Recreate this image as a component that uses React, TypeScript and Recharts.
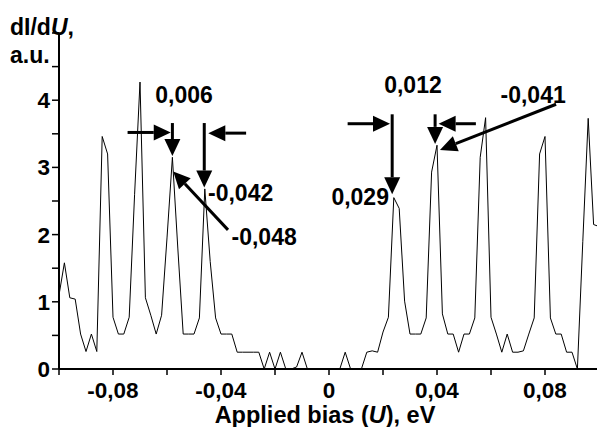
import React from 'react';
import { LineChart, Line, XAxis, YAxis, ReferenceLine, ReferenceDot } from 'recharts';

// Applied bias U (eV)
const bias = [
  -0.1, -0.098, -0.096, -0.094, -0.092, -0.09, -0.088, -0.086, -0.084, -0.082,
  -0.08, -0.078, -0.076, -0.074, -0.072, -0.07, -0.068, -0.066, -0.064, -0.062,
  -0.06, -0.058, -0.056, -0.054, -0.052, -0.05, -0.048, -0.046, -0.044, -0.042,
  -0.04, -0.038, -0.036, -0.034, -0.032, -0.03, -0.028, -0.026, -0.024, -0.022,
  -0.02, -0.018, -0.016, -0.014, -0.012, -0.01, -0.008, -0.006, -0.004, -0.002,
  0, 0.002, 0.004, 0.006, 0.008, 0.01, 0.012, 0.014, 0.016, 0.018,
  0.02, 0.022, 0.024, 0.026, 0.028, 0.03, 0.032, 0.034, 0.036, 0.038,
  0.04, 0.042, 0.044, 0.046, 0.048, 0.05, 0.052, 0.054, 0.056, 0.058,
  0.06, 0.062, 0.064, 0.066, 0.068, 0.07, 0.072, 0.074, 0.076, 0.078,
  0.08, 0.082, 0.084, 0.086, 0.088, 0.09, 0.092, 0.094, 0.096, 0.098,
  0.1,
];

// dI/dU (a.u.)
const dIdU = [
  1.1, 1.58, 1.06, 1.04, 0.52, 0.26, 0.52, 0.26, 3.46, 3.2,
  0.77, 0.52, 0.52, 0.77, 2.6, 4.27, 1.06, 0.8, 0.52, 0.8,
  1.95, 3.15, 1.8, 0.52, 0.52, 0.52, 0.76, 2.68, 1.6, 0.76,
  0.52, 0.52, 0.52, 0.25, 0.25, 0.25, 0.25, 0.25, 0, 0.25,
  0, 0.25, 0, 0, 0.03, 0.25, 0, 0, 0, 0,
  0, 0, 0, 0.25, 0, 0, 0, 0.25, 0.27, 0.25,
  0.55, 0.77, 2.55, 2.39, 1.01, 0.52, 0.52, 0.52, 0.76, 2.93,
  3.33, 0.82, 0.52, 0.52, 0.25, 0.52, 0.52, 0.76, 3.15, 3.74,
  0.77, 0.52, 0.25, 0.52, 0.25, 0.25, 0.27, 0.52, 0.76, 3.2,
  3.46, 0.76, 0.52, 0.52, 0.25, 0.25, 0, 1.9, 3.73, 2.15,
  2.12,
];

const xTicks = [-0.1, -0.08, -0.06, -0.04, -0.02, 0, 0.02, 0.04, 0.06, 0.08, 0.1];
const xTickLabels: Record<string, string> = {
  '-0.08': '-0,08',
  '-0.04': '-0,04',
  '0': '0',
  '0.04': '0,04',
  '0.08': '0,08',
};
const yTicks = [0, 0.5, 1, 1.5, 2, 2.5, 3, 3.5, 4, 4.5, 5];
const yTickLabels: Record<string, string> = { '0': '0', '1': '1', '2': '2', '3': '3', '4': '4' };

// Arrow annotations in data units (tail -> tip)
const arrows = [
  { x1: -0.0746, y1: 3.52, x2: -0.0586, y2: 3.52 },
  { x1: -0.058, y1: 3.66, x2: -0.058, y2: 3.17 },
  { x1: -0.0462, y1: 3.66, x2: -0.0462, y2: 2.7 },
  { x1: -0.0307, y1: 3.51, x2: -0.0447, y2: 3.51 },
  { x1: -0.0374, y1: 2.07, x2: -0.0577, y2: 2.94 },
  { x1: 0.0069, y1: 3.65, x2: 0.0226, y2: 3.65 },
  { x1: 0.0234, y1: 3.79, x2: 0.0234, y2: 2.6 },
  { x1: 0.0393, y1: 3.79, x2: 0.0393, y2: 3.35 },
  { x1: 0.0544, y1: 3.65, x2: 0.0406, y2: 3.65 },
  { x1: 0.0841, y1: 3.94, x2: 0.0411, y2: 3.26 },
];

// Text annotations in data units
const notes = [
  { x: -0.0537, y: 4.08, text: '0,006', anchor: 'middle' },
  { x: -0.0448, y: 2.62, text: '-0,042', anchor: 'start' },
  { x: -0.0361, y: 1.97, text: '-0,048', anchor: 'start' },
  { x: 0.0311, y: 4.23, text: '0,012', anchor: 'middle' },
  { x: 0.0222, y: 2.56, text: '0,029', anchor: 'end' },
  { x: 0.0756, y: 4.08, text: '-0,041', anchor: 'middle' },
];

const data = bias.map((b, i) => ({ bias: b, v: dIdU[i] }));

const FONT = '"Liberation Sans", Arial, Helvetica, sans-serif';
const FS = 23;
const TICK_FS = 22.5;

const ArrowShape = (p: any) => {
  const x1 = Number(p.x1), y1 = Number(p.y1), x2 = Number(p.x2), y2 = Number(p.y2);
  const dx = x2 - x1, dy = y2 - y1;
  const len = Math.hypot(dx, dy) || 1;
  const ux = dx / len, uy = dy / len;
  const L = 17, W = 8;
  const bx = x2 - ux * L, by = y2 - uy * L;
  const pts = `${x2},${y2} ${bx - uy * W},${by + ux * W} ${bx + uy * W},${by - ux * W}`;
  return (
    <g>
      <line x1={x1} y1={y1} x2={bx} y2={by} stroke="#000" strokeWidth={3} />
      <polygon points={pts} fill="#000" />
    </g>
  );
};

const fmtX = (v: number) => {
  const k = String(Math.round(v * 100) / 100);
  return xTickLabels[k] ?? '';
};
const fmtY = (v: number) => yTickLabels[String(v)] ?? '';

export default function App() {
  return (
    <div style={{ position: 'absolute', left: 0, top: 0, width: 597, height: 427, overflow: 'hidden', background: '#fff' }}>
      <LineChart width={600} height={427} data={data} margin={{ top: 33, right: 1, left: 0, bottom: 0 }}>
        <XAxis
          dataKey="bias"
          type="number"
          domain={[-0.1, 0.1]}
          ticks={xTicks}
          tickFormatter={fmtX}
          interval={0}
          height={58}
          tickSize={6}
          tickMargin={7}
          allowDataOverflow
          axisLine={{ stroke: '#000', strokeWidth: 2 }}
          tickLine={{ stroke: '#000', strokeWidth: 1.5 }}
          tick={{ fill: '#000', fontSize: TICK_FS, fontWeight: 'bold', fontFamily: FONT }}
        />
        <YAxis
          type="number"
          domain={[0, 5]}
          ticks={yTicks}
          tickFormatter={fmtY}
          interval={0}
          width={59}
          tickSize={7}
          tickMargin={2}
          allowDataOverflow
          axisLine={{ stroke: '#000', strokeWidth: 2 }}
          tickLine={{ stroke: '#000', strokeWidth: 1.5 }}
          tick={{ fill: '#000', fontSize: TICK_FS, fontWeight: 'bold', fontFamily: FONT }}
        />
        <Line
          dataKey="v"
          type="linear"
          stroke="#000"
          strokeWidth={1}
          dot={false}
          activeDot={false}
          isAnimationActive={false}
        />
        {arrows.map((a, i) => (
          <ReferenceLine
            key={'a' + i}
            segment={[{ x: a.x1, y: a.y1 }, { x: a.x2, y: a.y2 }]}
            shape={ArrowShape}
            ifOverflow="visible"
          />
        ))}
        {notes.map((n, i) => (
          <ReferenceDot
            key={'n' + i}
            x={n.x}
            y={n.y}
            r={0}
            ifOverflow="visible"
            shape={(p: any) => (
              <text
                x={p.cx}
                y={p.cy}
                dy="0.35em"
                textAnchor={n.anchor as any}
                fontSize={FS}
                fontWeight="bold"
                fontFamily={FONT}
                fill="#000"
              >
                {n.text}
              </text>
            )}
          />
        ))}
        <text x={10} y={35} fontSize={FS} fontWeight="bold" fontFamily={FONT} fill="#000">
          dI/d<tspan fontStyle="italic">U</tspan>,
        </text>
        <text x={10} y={63} fontSize={FS} fontWeight="bold" fontFamily={FONT} fill="#000">
          a.u.
        </text>
        <text x={325} y={423} textAnchor="middle" fontSize={23.5} fontWeight="bold" fontFamily={FONT} fill="#000">
          Applied bias (<tspan fontStyle="italic">U</tspan>), eV
        </text>
      </LineChart>
    </div>
  );
}
